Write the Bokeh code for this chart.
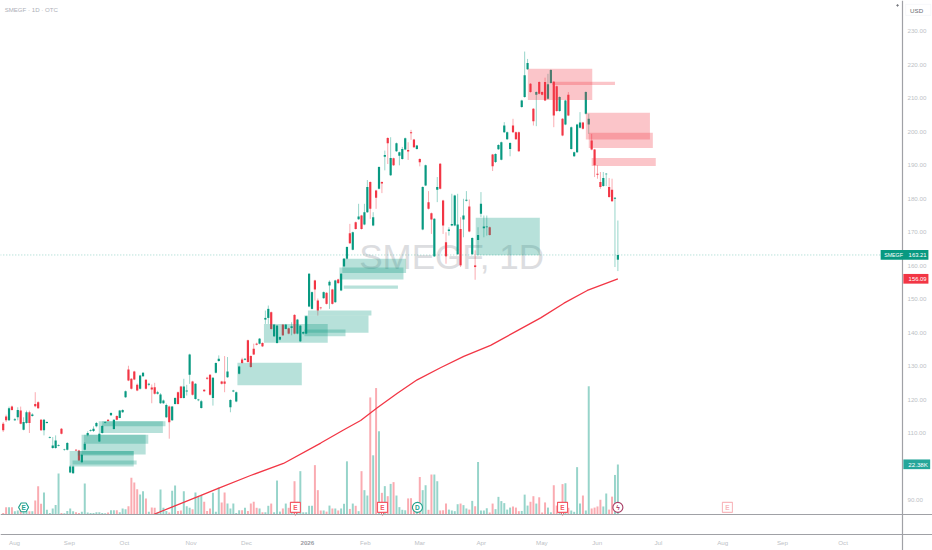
from bokeh.plotting import figure
from bokeh.embed import file_html
from bokeh.resources import INLINE
from bokeh.core.properties import value
from bokeh.models import (Range1d, FixedTicker, NumeralTickFormatter, Span,
                          BoxAnnotation, Label, ColumnDataSource)

opens = [112.8,114.9,113.8,117.9,113.8,114.7,116.7,111.0,113.0,116.2,
 115.1,118.7,119.2,114.0,110.8,113.0,108.6,105.5,105.5,106.2,
 111.3,104.9,105.0,98.2,98.0,105.0,104.8,101.3,105.0,109.3,
 110.7,110.6,112.0,107.5,110.0,113.1,114.0,115.3,111.2,115.1,
 114.5,116.2,120.7,129.0,126.2,128.4,124.4,123.2,127.0,125.9,
 124.4,123.6,123.7,121.7,118.9,118.9,114.7,117.9,113.8,118.7,
 122.2,123.9,120.5,122.4,127.4,125.4,120.2,119.8,117.5,122.9,
 126.5,127.4,120.5,128.0,131.5,125.4,125.4,126.7,117.7,122.4,
 119.4,127.7,132.0,131.9,137.7,133.0,135.2,136.7,136.7,136.9,
 143.9,144.4,146.1,138.9,136.9,137.9,142.4,141.1,141.3,141.4,
 145.3,139.7,137.4,139.7,139.7,147.8,147.1,155.6,149.6,147.5,
 150.3,151.9,154.1,152.9,149.1,155.9,152.6,159.8,162.1,169.7,
 164.8,173.0,173.9,175.0,172.3,176.0,185.0,172.0,182.5,183.0,
 185.0,192.6,198.2,187.0,192.1,194.2,192.9,191.9,194.7,194.6,
 199.9,197.7,194.9,191.9,170.8,184.0,179.0,175.7,162.8,182.7,
 190.5,179.5,167.0,170.4,172.0,172.0,163.4,171.0,173.8,179.4,
 177.7,163.4,160.1,167.7,175.5,171.2,171.5,171.5,193.2,191.0,
 194.8,191.7,199.9,197.8,194.9,201.9,199.9,199.9,207.4,210.4,
 218.7,214.4,206.9,211.1,214.9,211.9,214.9,209.9,214.6,215.0,
 213.6,206.2,203.9,202.2,211.1,194.9,192.7,193.9,201.2,202.8,
 205.4,202.2,197.4,194.7,187.5,185.0,183.8,187.3,183.5,182.7,
 180.0,161.8]
highs = [113.3,115.5,117.9,118.2,114.5,117.7,117.9,114.7,116.7,116.7,
 115.9,122.2,119.5,114.2,114.2,113.5,109.0,108.8,109.3,106.6,
 111.5,105.3,107.3,100.3,100.3,105.2,105.0,103.8,107.3,110.5,
 111.1,112.0,113.3,110.0,112.4,113.5,114.1,116.2,114.1,115.3,
 116.9,117.1,122.7,130.1,126.4,128.6,124.8,127.4,128.2,126.1,
 125.0,124.5,125.0,122.6,121.9,120.0,118.8,118.2,118.1,120.7,
 122.4,124.1,126.2,124.4,133.7,125.6,124.9,120.2,119.9,123.1,
 126.8,127.6,126.7,131.1,133.2,125.6,133.0,132.7,120.1,122.9,
 122.4,130.1,132.5,132.4,137.9,133.2,136.7,137.0,138.4,137.1,
 146.6,148.1,146.3,142.6,142.3,138.9,142.6,142.6,141.5,143.1,
 145.5,144.1,142.3,140.4,145.1,157.8,152.3,155.8,150.2,147.7,
 152.3,152.1,155.6,153.1,155.8,156.1,157.8,162.3,165.8,172.5,
 170.2,173.2,178.5,175.2,178.5,185.6,185.2,176.0,182.7,189.7,
 185.2,194.4,198.4,198.4,192.3,196.8,194.1,195.5,198.3,196.9,
 200.6,197.9,196.1,192.1,183.7,190.2,182.3,175.9,174.2,186.5,
 190.7,179.7,170.0,171.5,181.5,181.2,181.5,174.5,180.0,182.3,
 179.8,168.5,164.6,171.5,182.0,175.0,175.0,171.7,193.4,193.6,
 196.3,197.1,202.9,200.1,196.9,203.9,200.1,200.1,209.6,224.0,
 221.8,214.6,207.1,212.1,215.1,212.1,216.2,217.35,218.7,215.2,
 213.8,210.6,204.1,209.6,211.9,201.6,194.1,202.4,205.9,203.0,
 212.1,205.4,199.4,194.9,190.0,188.0,188.0,187.7,186.2,186.0,
 180.5,173.5]
lows = [110.3,113.3,113.6,116.7,113.6,113.8,112.6,110.8,112.8,110.0,
 114.9,117.7,117.2,110.6,109.3,112.8,108.4,105.3,105.3,106.0,
 109.6,104.7,104.8,98.0,97.8,104.6,101.6,101.1,104.8,109.0,
 110.4,110.3,111.7,107.3,109.8,112.9,113.4,115.1,111.0,113.8,
 114.4,116.0,120.5,125.5,123.0,125.8,122.5,123.0,126.8,123.0,
 124.0,118.9,121.5,121.5,118.7,118.7,114.5,108.3,113.6,118.5,
 118.5,120.3,120.3,121.2,124.7,121.2,120.0,119.5,117.3,122.3,
 125.9,121.2,118.2,127.8,131.3,124.5,122.2,126.5,116.2,122.2,
 119.2,127.5,130.7,131.7,131.0,129.5,133.3,136.2,136.5,135.7,
 142.6,142.6,140.9,138.7,136.7,137.7,139.0,141.0,139.5,139.2,
 139.5,139.5,137.2,139.4,139.5,147.6,146.9,149.6,145.1,146.9,
 150.1,148.4,147.1,148.4,148.9,154.6,152.4,159.6,161.9,166.5,
 164.6,170.8,173.7,170.8,172.1,175.8,174.0,171.8,177.0,182.8,
 181.7,188.5,190.4,186.8,189.8,194.0,190.0,191.7,194.5,191.6,
 197.6,195.2,194.7,189.7,170.6,183.8,176.8,169.5,162.6,179.0,
 182.8,169.5,160.6,169.0,171.8,171.8,163.2,159.6,168.5,179.2,
 170.0,163.2,155.8,163.1,174.5,168.5,169.0,169.0,188.3,190.7,
 194.6,191.5,199.7,197.6,192.7,199.7,197.6,194.0,207.2,210.2,
 218.5,211.7,201.9,201.7,211.2,210.9,209.2,209.7,214.4,201.4,
 206.0,206.0,198.7,202.0,204.7,194.7,192.5,193.7,201.0,200.7,
 205.2,199.4,194.5,186.5,186.0,183.0,183.6,183.8,180.3,179.1,
 159.6,158.4]
closes = [110.8,113.8,117.4,116.9,114.1,116.9,112.8,113.3,116.2,113.0,
 115.5,118.0,117.4,110.8,114.0,113.3,108.8,106.3,107.8,106.4,
 109.8,105.1,107.0,100.0,100.0,104.8,101.8,103.5,106.8,110.0,
 110.9,111.3,113.0,109.8,112.1,113.3,113.6,116.0,114.0,114.0,
 116.7,116.9,122.5,125.7,123.2,126.0,122.7,127.2,128.0,123.2,
 124.7,123.0,121.7,122.2,121.5,119.7,118.4,113.2,117.9,120.5,
 118.7,120.5,123.9,122.7,133.5,121.4,124.7,120.0,119.5,122.5,
 126.2,121.4,126.5,130.9,132.2,124.7,124.7,128.4,119.9,122.7,
 122.2,129.9,130.9,132.2,131.2,129.7,133.5,136.4,138.2,135.9,
 144.4,147.1,141.1,142.4,142.1,138.7,139.2,142.4,139.7,141.9,
 139.7,143.9,142.1,140.2,144.9,157.6,152.1,152.9,146.6,147.3,
 152.1,148.6,155.2,148.6,155.6,154.8,157.6,162.1,165.6,166.7,
 170.0,171.0,174.7,171.0,176.0,183.5,177.0,174.5,180.3,189.5,
 184.6,193.1,196.6,192.2,190.0,196.6,193.9,194.9,198.1,194.1,
 199.6,195.4,195.9,190.9,183.5,190.0,177.0,173.8,174.0,183.5,
 183.0,172.0,162.8,170.8,172.5,181.0,172.3,160.1,175.0,179.7,
 170.2,168.3,159.6,169.2,178.5,171.7,171.7,169.2,189.7,193.4,
 196.1,196.9,201.9,199.9,196.7,199.9,197.8,194.2,209.4,216.9,
 220.6,211.9,203.2,211.9,211.4,211.1,209.4,214.2,218.5,204.9,
 206.2,210.4,198.9,209.4,204.9,201.4,193.9,202.2,202.8,200.9,
 211.9,203.9,194.7,190.0,187.2,183.5,186.2,187.5,180.5,179.3,
 180.3,163.21]
volumes_k = [0.7,3.3,3.3,3.3,1.5,1.8,2.2,3.7,1.8,1.5,
 1.5,6.3,12.7,4.8,9.8,2.1,0.7,2.7,4.2,18.3,
 0.7,0.6,1.6,2.7,1.5,1.0,0.7,1.2,13.9,0.9,
 0.7,0.7,1.0,1.0,0.7,0.6,0.9,1.9,1.9,1.9,
 1.0,2.7,2.4,3.7,16.5,14.3,11.3,8.9,10.4,7.2,
 1.2,3.1,3.0,1.0,11.2,3.0,1.6,0.9,10.6,13.0,
 1.6,1.8,10.4,3.7,3.0,2.4,9.8,7.9,8.6,5.7,
 1.6,2.7,9.7,1.2,12.1,5.4,9.8,4.9,2.7,4.9,
 0.7,1.9,1.9,3.0,1.6,4.9,5.7,3.0,2.7,1.0,
 1.0,3.9,4.9,1.0,15.2,1.3,2.7,4.9,3.0,0.9,
 14.9,5.7,19.4,1.0,1.0,3.9,3.9,22.1,10.9,1.8,
 1.8,1.3,4.0,2.7,2.7,1.8,2.7,4.8,23.8,2.5,
 4.9,3.9,1.5,19.4,10.9,8.5,52.4,26.5,56.6,37.3,
 9.7,12.7,8.2,13.7,14.5,8.5,3.3,2.1,1.9,7.2,
 7.3,3.7,3.0,16.8,10.9,13.1,2.1,17.9,17.9,14.9,
 1.8,1.9,4.9,2.2,1.8,1.5,4.6,4.9,4.2,2.7,
 2.2,6.1,3.7,23.5,1.8,1.8,2.8,0.9,4.9,2.4,
 7.9,6.0,5.1,2.2,3.1,3.6,3.1,1.5,1.6,8.9,
 4.0,5.7,8.2,4.9,7.7,0.9,5.4,3.1,1.0,13.1,
 4.0,3.7,13.6,14.0,3.0,1.8,1.2,21.2,4.9,8.5,
 1.8,57.4,2.7,3.1,3.6,6.6,3.6,9.4,2.2,8.0,
 17.7,22.38]

ma_bars = [51.6,67.7,73.6,84.9,96.2,109,116.8,122.7,128.4,135.3,142.1,150.1,158.1,167.3,176.5,184.5,192.5,200.5,211]
ma_values = [85.65,91.3,93.4,97.3,100.9,107.0,110.9,113.74,117.53,121.9,125.9,129.5,132.9,136.2,140.6,144.4,148.8,152.6,156.09]

green_left = [22.8,25.6,23.8,26.9,27.7,32.8,34,80.4,89.5,103.4,103.4,104.6,116.4,115.4,116.9,162.2]
green_right = [44.8,44.8,45.8,48.9,49.8,54.8,55.7,102.5,111.4,117.5,125.4,126.4,138.3,137.4,135.5,184.2]
green_top = [104.6,104.6,101.8,109.5,109.5,113.5,113.5,131,142.6,140.9,145.1,146.6,162.1,159.5,154.1,174.3]
green_bottom = [100,103.3,100.6,103.6,106.8,110,112,124.3,137,138.9,139.95,145.1,157.8,155.9,153.1,163.1]
red_left = [180.1,188.5,200,201,202]
red_right = [202.2,210,222,223,224]
red_top = [218.9,215,205.7,199.7,192.2]
red_bottom = [209.5,214,197.7,195.2,189.8]

price_ticks = [90,100,110,120,130,140,150,160,170,180,190,200,210,220,230]
month_ticks = [3.9,22.7,41.6,64.5,83.5,124.3,143,164.1,184.9,203.9,224.9,247,267.5,288.3]
month_labels = ["Aug","Sep","Oct","Nov","Dec","Feb","Mar","Apr","May","Jun","Jul","Aug","Sep","Oct"]
year_tick, year_label = 104.4, "2026"

event_bars = [7,100.3,130.2,142.2,192,211,248.6]
event_text = ["E","E","E","D","E","ϟ","E"]
event_color = ["#22a08c","#f45a66","#f45a66","#22a08c","#f45a66","#a83f66","#f8b8bd"]
event_marker = ["hex","square","square","circle","square","circle","square"]
event_point = [False,True,True,False,True,False,False]
event_height = [3.2]*7

GREEN, RED = "#089981", "#f23645"
GREY = "#a0a1a6"
TXT = "#bdbfc6"
FONT = "Liberation Sans"
AXIS_PRICE, AXIS_BAR, PANE_PRICE = 79.67, 308.7, 85.65

xs = list(range(len(closes)))
colors = [GREEN if c >= o else RED for o, c in zip(opens, closes)]
tops = [max(o, c) for o, c in zip(opens, closes)]
bots = [min(o, c) for o, c in zip(opens, closes)]
src = ColumnDataSource(dict(x=xs, o=opens, h=highs, l=lows, c=closes, top=tops, bot=bots, col=colors, v=volumes_k))

p = figure(width=932, height=550, output_backend="svg", toolbar_location=None, tools="",
           x_range=Range1d(-0.927, 319.0), y_range=Range1d(74.89, 239.26),
           y_axis_location="right", min_border_left=0, min_border_top=0,
           min_border_right=0, min_border_bottom=0, background_fill_color="white",
           outline_line_color=None)
p.extra_y_ranges = {"vol": Range1d(-16.11, 230.06)}
p.grid.visible = False

for ax in (p.xaxis[0], p.yaxis[0]):
    ax.major_tick_line_color = None
    ax.minor_tick_line_color = None
    ax.major_tick_in = 0
    ax.major_tick_out = 0
    ax.minor_tick_in = 0
    ax.minor_tick_out = 0
    ax.axis_line_color = GREY
    ax.axis_line_width = 1.2
    ax.major_label_text_color = TXT
    ax.major_label_text_font = FONT
    ax.major_label_text_font_size = "6.2px"
p.yaxis[0].ticker = FixedTicker(ticks=price_ticks)
p.yaxis[0].formatter = NumeralTickFormatter(format="0.00")
p.yaxis[0].major_label_standoff = 5
p.yaxis[0].fixed_location = AXIS_BAR
p.xaxis[0].ticker = FixedTicker(ticks=month_ticks)
p.xaxis[0].major_label_overrides = dict(zip(month_ticks, month_labels))
p.xaxis[0].major_label_standoff = 4
p.xaxis[0].fixed_location = AXIS_PRICE

# watermark
p.add_layout(Label(x=153.9, y=162.7, text="SMEGF, 1D", text_font="Liberation Sans", text_font_size="35px",
                   text_color="#dcdde0", text_align="center", text_baseline="middle", level="underlay"))

p.vbar(x="x", width=0.68, bottom=0, top="v", fill_color="col", line_color=None, fill_alpha=0.42, source=src, y_range_name="vol")
p.segment(x0="x", x1="x", y0="l", y1="h", color="col", alpha=0.42, line_width=1, source=src)
p.vbar(x="x", width=0.75, bottom="bot", top="top", color="col", line_color=None, source=src)

p.quad(left=green_left, right=green_right, top=green_top, bottom=green_bottom, fill_color=GREEN, fill_alpha=0.29, line_color=None)
p.quad(left=red_left, right=red_right, top=red_top, bottom=red_bottom, fill_color=RED, fill_alpha=0.29, line_color=None)

p.line(ma_bars, ma_values, line_color=RED, line_width=1.3)

p.segment(x0=[-1], x1=[301.2], y0=[163.21], y1=[163.21], line_color=GREEN, line_alpha=0.4, line_dash="1 2", line_width=1)
p.add_layout(Span(location=PANE_PRICE, dimension="width", line_color=GREY, line_width=1.2))

# events
for b, t, c, m, h, pt in zip(event_bars, event_text, event_color, event_marker, event_height, event_point):
    if pt:
        p.scatter([b], [h - 2.0], marker="inverted_triangle", size=6, fill_color="white", line_color=c, line_width=1, y_range_name="vol")
    p.scatter([b], [h], marker=m, size=10, fill_color="white", line_color=c, line_width=1.1, y_range_name="vol")
    p.text([b], [h], text=[t], text_color=c, text_font=value(FONT), text_font_size="6.5px", text_font_style="bold",
           text_align="center", text_baseline="middle", y_range_name="vol")

# price scale tags
def tag(left, right, price, text_items, color):
    p.add_layout(BoxAnnotation(left=left, right=right, top=price + 1.45, bottom=price - 1.45,
                               fill_color=color, fill_alpha=1, line_color=None))
    for x, t, size in text_items:
        p.add_layout(Label(x=x, y=price, text=t, text_color="white", text_font=FONT, text_font_size=size,
                           text_align="left", text_baseline="middle"))

tag(301.2, 317.6, 163.21, [(302.4, "SMEGF", "5.3px"), (310.8, "163.21", "5.9px")], GREEN)
tag(309, 317.6, 156.09, [(310.8, "156.09", "5.9px")], RED)
tag(309, 318.2, 100.65, [(310.7, "22.38K", "6.2px")], "#26a69a")

# header
p.add_layout(Label(x=0.5, y=236.6, text="SMEGF · 1D · OTC", text_color="#aeb0b8", text_font=FONT,
                   text_font_size="6.1px", text_baseline="middle"))
p.add_layout(BoxAnnotation(left=309.8, right=318.4, top=238.1, bottom=234.8, fill_color="white",
                           fill_alpha=1, line_color="#e6e8ee", line_width=1))
p.add_layout(Label(x=311.3, y=236.4, text="USD", text_color="#66686f", text_font=FONT,
                   text_font_size="6.2px", text_baseline="middle"))
p.add_layout(Label(x=year_tick, y=77.28, text=year_label, text_color="#9a9ca3", text_font=FONT,
                   text_font_size="6.2px", text_font_style="bold", text_align="center", text_baseline="middle"))
p.scatter([307], [237.8], marker="circle", size=1.5, color="#77797f")

open("out.html", "w").write(file_html(p, INLINE))
